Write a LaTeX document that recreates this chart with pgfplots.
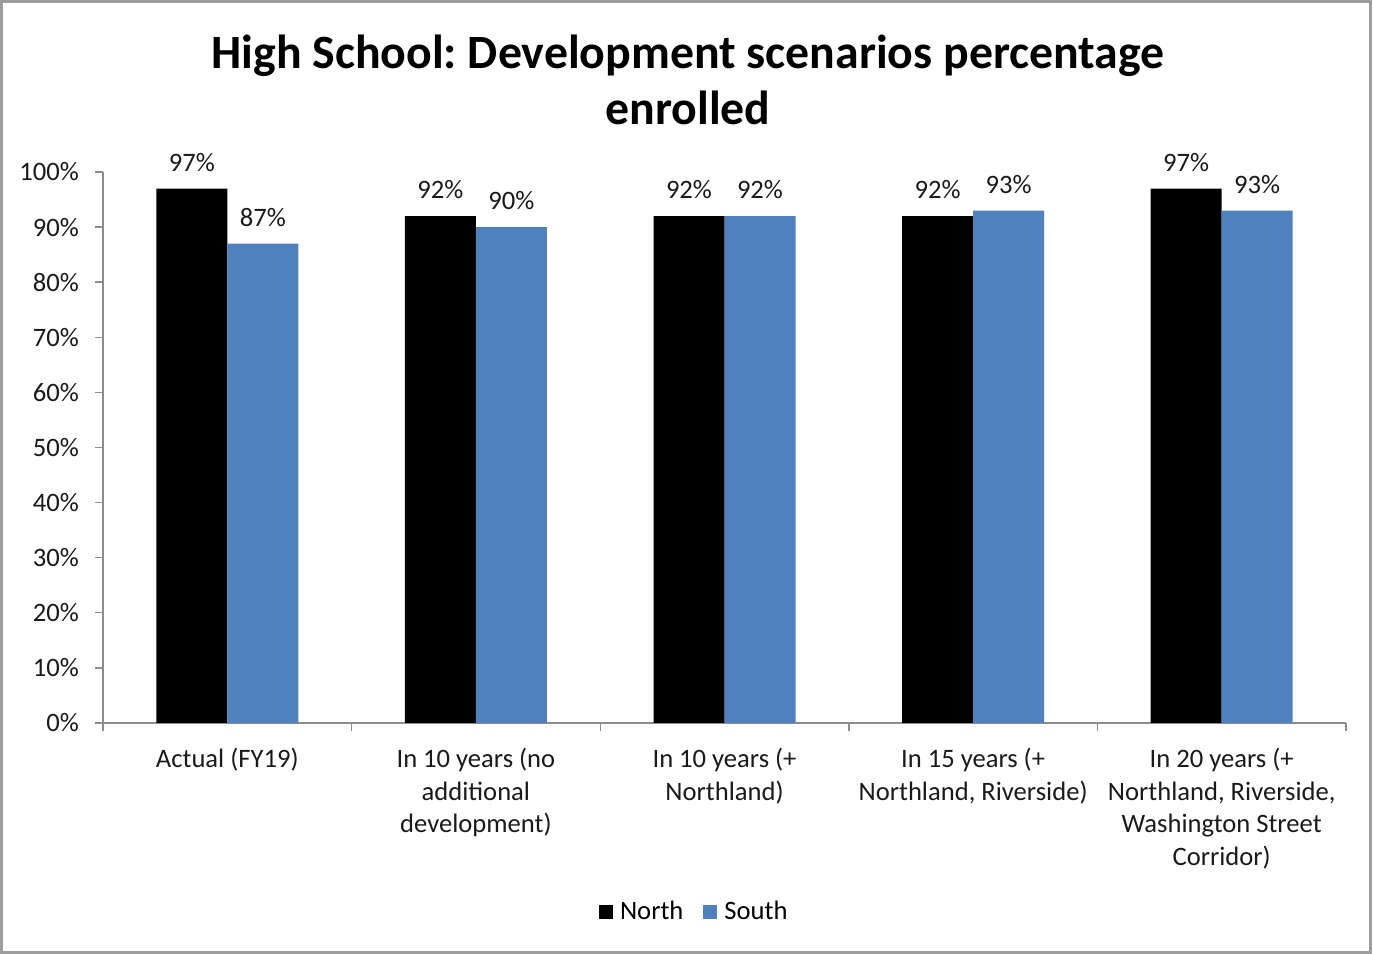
\documentclass[border=0pt]{standalone}
\usepackage{pgfplots}
\pgfplotsset{compat=1.18}
\usepackage{fontspec}
\setmainfont{Carlito}
\frenchspacing
\definecolor{southblue}{HTML}{4F81BD}
\definecolor{axisgray}{HTML}{8C8C8C}
\definecolor{txt}{HTML}{1A1A1A}
\begin{document}
\begin{tikzpicture}
\useasboundingbox (0,0) rectangle (686.5pt,477pt);
\draw[color=axisgray!85, line width=1.2pt] (0.8pt,0.8pt) rectangle (685.2pt,476.2pt);
\node[font=\bfseries\fontsize{23.9}{28}\selectfont, align=center, text=black] at (344pt,437pt)
  {High School: Development scenarios percentage\\enrolled};
\begin{axis}[
  at={(51.5pt,115.5pt)}, anchor=south west,
  scale only axis, width=621.5pt, height=275.5pt,
  xmin=-0.5, xmax=4.5, ymin=0, ymax=100,
  axis x line*=bottom, axis y line*=left,
  axis line style={draw=axisgray, line width=0.7pt},
  every outer x axis line/.append style={-}, every outer y axis line/.append style={-},
  tick align=outside, major tick length=4pt,
  tick style={draw=axisgray, line width=0.7pt},
  ytick={0,10,...,100},
  yticklabels={0\%,10\%,20\%,30\%,40\%,50\%,60\%,70\%,80\%,90\%,100\%},
  yticklabel style={font=\fontsize{13.3}{16}\selectfont, text=txt, xshift=-4.5pt},
  xtick={-0.5,0.5,1.5,2.5,3.5,4.5},
  xticklabels={Actual (FY19),{In 10 years (no\\additional\\development)},{In 10 years (+\\Northland)},{In 15 years (+\\Northland, Riverside)},{In 20 years (+\\Northland, Riverside,\\Washington Street\\Corridor)},{}},
  xticklabel style={font=\fontsize{13.3}{16.3}\selectfont, text=txt, align=center, xshift=62.15pt, yshift=-5pt, anchor=north},
  /pgf/number format/assume math mode=true,
  nodes near coords={\pgfmathprintnumber{\pgfplotspointmeta}\%},
  every node near coord/.append style={font=\fontsize{13.3}{16}\selectfont, text=txt, yshift=5pt},
  ybar=0pt, bar width=35.5pt,
  legend columns=2,
  legend style={at={(0.4765,-0.343)}, anchor=center, draw=none, font=\fontsize{13.3}{16}\selectfont,
    /tikz/every odd column/.append style={column sep=1.5pt},
    /tikz/every even column/.append style={column sep=8pt}},
  legend image code/.code={\fill[#1] (0pt,-3.5pt) rectangle (7pt,3.5pt);},
]
\addplot[fill=black, draw=none, bar shift=-17.75pt] coordinates {(0,97) (1,92) (2,92) (3,92) (4,97)};
\addplot[fill=southblue, draw=none, bar shift=17.75pt] coordinates {(0,87) (1,90) (2,92) (3,93) (4,93)};
\legend{North,South}
\end{axis}
\end{tikzpicture}
\end{document}
